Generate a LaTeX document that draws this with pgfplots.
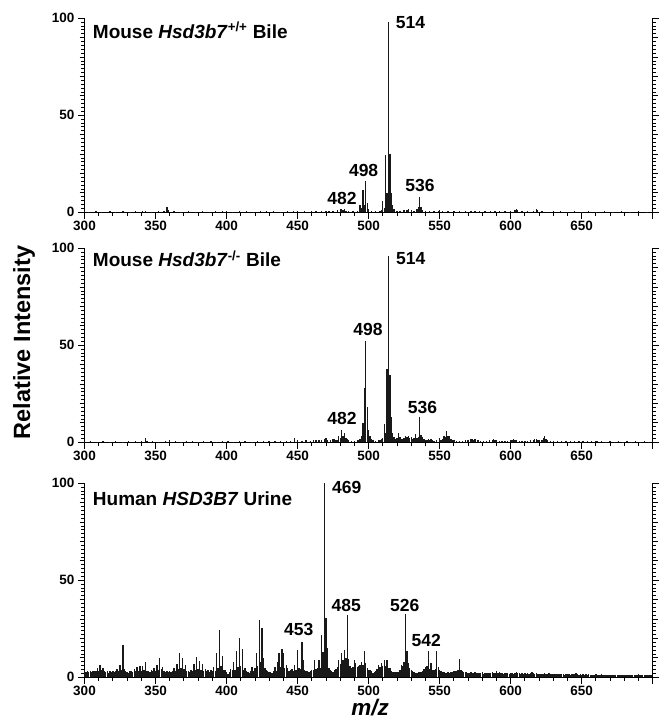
\documentclass[border=0pt]{standalone}
\usepackage{fontspec}
\setmainfont{Liberation Sans}
\usepackage{pgfplots}
\pgfplotsset{compat=1.18}

% one panel of the stacked spectra
\pgfplotsset{
  spec/.style={
    anchor=south west,
    scale only axis, width=568.2pt, height=194pt,
    xmin=300, xmax=700, ymin=0, ymax=100,
    axis x line*=bottom, axis y line*=box,
    xtick pos=bottom, ytick pos=both, yticklabel pos=left,
    tick align=outside,
    xtick={300,350,...,700},
    xticklabels={300,350,400,450,500,550,600,650,{}},
    minor x tick num=4,
    ytick={0,50,100}, minor y tick num=24,
    extra y ticks={10,20,30,40,60,70,80,90},
    extra y tick labels={},
    extra y tick style={major tick length=5pt},
    major tick length=6.5pt, minor tick length=3.5pt,
    tick style={black, line width=0.9pt},
    axis line style={black, line width=1.3pt},
    ticklabel style={font=\bfseries\fontsize{13.5}{14}\selectfont},
    xticklabel style={yshift=1pt},
    /pgf/number format/assume math mode=true,
    clip=false,
  },
  stick/.style={ycomb, black!90, line width=1.35pt, mark=none},
}
\tikzset{
  peak/.style={font=\bfseries\fontsize{17.5}{18}\selectfont, inner sep=0pt},
  ptitle/.style={font=\bfseries\fontsize{19}{20}\selectfont, inner sep=0pt, anchor=base west},
}

\begin{document}
\begin{tikzpicture}
\useasboundingbox (0,0) rectangle (660pt,719pt);

% ---- Mouse Hsd3b7 +/+ bile
\begin{axis}[spec, at={(84.5pt,506.7pt)}]
\addplot[stick] coordinates {
(300,0.5) (303,0.4) (308,0.5) (312,0.4) (318,0.5) (322,0.4) (327,0.5) (332,0.4)
(336,0.5) (341,0.8) (343,0.6) (347,0.4) (352,0.5) (356,0.8) (358,2.8) (359,1.0)
(363,0.5) (368,0.4) (373,0.6) (378,0.4) (383,0.5) (388,0.4) (392,0.6) (397,0.8)
(400,0.5) (404,0.4) (409,0.6) (414,0.5) (419,0.4) (424,0.5) (428,0.6) (433,0.5)
(438,0.4) (443,0.6) (447,0.8) (450,0.6) (455,0.5) (460,0.6) (463,0.5) (467,0.7)
(470,0.8) (472,0.6) (475,0.5) (478,1.0) (480,1.5) (481,1.8) (482,1.4) (483,1.5)
(484,0.8) (486,0.6) (489,0.5) (492,0.8) (494,3.8) (495,2.0) (496,11.5) (497,4.0)
(498,16) (499,5.0) (500,1.5) (502,0.6) (505,0.5) (508,0.8) (509,1.2) (510,6.0)
(511,2.0) (512,29.5) (513,10) (514,98) (515,30) (516,10) (517,4.0) (518,1.5)
(520,0.8) (522,0.6) (525,1.0) (527,1.2) (528,1.5) (530,1.3) (532,0.8) (534,1.5)
(535,2.5) (536,8.0) (537,2.5) (538,1.2) (540,0.8) (543,0.6) (546,0.7) (549,0.9)
(550,1.1) (552,0.7) (556,0.6) (560,0.5) (564,0.6) (568,0.5) (572,0.6) (575,0.9)
(578,0.5) (582,0.5) (586,0.6) (589,0.9) (592,0.6) (596,0.5) (600,0.8) (603,1.2)
(604,1.6) (605,1.0) (608,0.6) (612,0.5) (616,0.8) (618,1.5) (619,1.0) (622,0.5)
(626,0.4) (630,0.6) (635,0.5) (640,0.4) (645,0.5) (650,0.4) (655,0.5) (660,0.4)
(666,0.5) (672,0.4) (678,0.5) (684,0.4) (690,0.5) (696,0.4)
};
\node[ptitle] at (axis cs:305.8,89.7) {Mouse \textit{Hsd3b7}\textsuperscript{+/+} Bile};
\node[peak, anchor=base west] at (axis cs:519.1,94.8) {514};
\node[peak, anchor=base] at (axis cs:496.5,18.4) {498};
\node[peak, anchor=base] at (axis cs:481.3,3.8) {482};
\node[peak, anchor=base] at (axis cs:536.2,10.6) {536};
\end{axis}

% ---- Mouse Hsd3b7 -/- bile
\begin{axis}[spec, at={(84.5pt,276.7pt)}]
\addplot[stick] coordinates {
(300,0.4) (304,0.5) (309,0.4) (313,0.6) (318,0.4) (322,0.5) (327,0.4) (331,0.6)
(336,0.5) (340,0.7) (343,2.0) (344,0.8) (348,0.5) (352,0.4) (357,0.6) (360,1.2)
(364,0.5) (368,0.4) (372,0.6) (376,0.5) (380,0.4) (384,0.6) (389,0.5) (393,0.4)
(397,0.6) (401,0.5) (405,0.4) (409,0.6) (413,0.5) (418,0.4) (422,0.6) (426,0.5)
(430,0.7) (434,0.5) (438,0.6) (442,0.8) (445,0.9) (448,2.0) (450,1.0) (453,0.8)
(456,1.0) (459,0.9) (461,1.2) (463,1.0) (465,1.3) (467,1.2) (469,1.5) (470,2.2)
(471,1.4) (473,1.2) (475,1.5) (476,1.8) (477,1.4) (478,1.2) (479,3.0) (480,2.0)
(481,6.3) (482,3.3) (483,5.0) (484,2.0) (485,1.8) (486,1.0) (488,0.8) (490,0.9)
(492,1.2) (493,1.0) (494,1.5) (495,3.0) (496,9.8) (497,27.8) (498,52) (499,18)
(500,6.3) (501,3.0) (502,1.5) (503,1.0) (505,0.9) (507,1.2) (508,1.0) (509,1.5)
(510,2.0) (511,9.4) (512,5.0) (513,38) (514,96) (515,34.7) (516,13) (517,5.0)
(518,2.5) (519,1.5) (520,2.0) (521,4.6) (522,2.5) (523,1.5) (524,1.8) (525,2.2)
(526,3.0) (527,2.5) (528,3.0) (529,2.0) (530,2.5) (531,1.5) (532,2.0) (533,4.3)
(534,2.0) (535,2.5) (536,12.9) (537,3.8) (538,2.5) (539,1.5) (540,1.2) (541,1.0)
(542,1.5) (543,1.2) (544,1.5) (545,1.0) (546,0.8) (548,1.2) (550,2.0) (551,1.2)
(552,1.5) (553,3.0) (554,2.5) (555,5.8) (556,3.0) (557,3.0) (558,1.5) (559,1.2)
(560,1.0) (562,0.8) (564,0.7) (566,0.9) (568,1.0) (570,1.2) (572,1.5) (573,1.8)
(574,1.4) (575,1.5) (577,1.0) (579,0.8) (581,0.7) (583,0.8) (585,1.0) (587,1.2)
(588,1.5) (589,1.3) (590,1.0) (592,0.8) (594,0.7) (596,0.9) (598,0.8) (600,1.0)
(601,1.2) (602,1.5) (603,1.3) (604,1.0) (606,0.8) (608,0.7) (610,0.8) (612,0.9)
(614,1.0) (616,1.2) (617,1.5) (618,1.8) (619,1.3) (620,1.0) (622,1.2) (623,2.0)
(624,3.0) (625,1.5) (626,1.0) (628,0.8) (630,0.7) (633,0.6) (636,0.7) (639,0.5)
(642,0.6) (645,0.5) (648,0.6) (651,0.5) (654,0.6) (657,0.5) (660,0.7) (661,0.8)
(664,0.5) (667,0.4) (670,0.5) (673,0.4) (676,0.5) (679,0.4) (682,0.5) (685,0.4)
(688,0.5) (691,0.4) (694,0.5) (697,0.4)
};
\node[ptitle] at (axis cs:305.8,90.5) {Mouse \textit{Hsd3b7}\textsuperscript{-/-} Bile};
\node[peak, anchor=base west] at (axis cs:519.3,91.8) {514};
\node[peak, anchor=base] at (axis cs:499.5,54.8) {498};
\node[peak, anchor=base] at (axis cs:481.3,9.4) {482};
\node[peak, anchor=base] at (axis cs:538,14.9) {536};
\end{axis}

% ---- Human HSD3B7 urine
\begin{axis}[spec, at={(84.5pt,41.7pt)}]
\addplot[stick] coordinates {
(300,3.8) (301,2.5) (302,3.0) (303,2.6) (304,3.2) (305,2.8) (306,3.0) (307,3.4) (308,3.0) (309,4.6)
(310,3.5) (311,6.4) (312,4.0) (313,5.0) (314,3.4) (315,2.6) (316,3.0) (317,2.4) (318,3.0) (319,2.6)
(320,3.0) (321,2.5) (322,3.5) (323,4.5) (324,3.2) (325,6.4) (326,4.0) (327,16.7) (328,4.3) (329,3.0)
(330,2.6) (331,2.2) (332,3.0) (333,3.3) (334,2.6) (335,4.1) (336,3.0) (337,5.2) (338,3.5) (339,5.8)
(340,3.2) (341,6.0) (342,3.8) (343,7.7) (344,3.4) (345,3.0) (346,2.5) (347,3.8) (348,3.0) (349,4.6)
(350,3.2) (351,6.4) (352,4.0) (353,9.8) (354,4.5) (355,5.5) (356,3.0) (357,2.6) (358,3.3) (359,2.5)
(360,3.3) (361,2.8) (362,3.2) (363,4.6) (364,3.4) (365,6.9) (366,4.5) (367,12.4) (368,5.0) (369,9.8)
(370,4.2) (371,6.4) (372,3.0) (373,3.4) (374,2.8) (375,3.8) (376,3.2) (377,6.7) (378,4.0) (379,10.3)
(380,4.5) (381,8.6) (382,4.0) (383,6.7) (384,3.2) (385,4.1) (386,3.0) (387,3.8) (388,2.8) (389,3.8)
(390,3.2) (391,5.5) (392,3.5) (393,12.4) (394,5.0) (395,24.4) (396,6.0) (397,11.0) (398,4.0) (399,3.8)
(400,2.5) (401,1.5) (402,2.5) (403,4.1) (404,3.8) (405,8.0) (406,4.0) (407,13.6) (408,5.5) (409,20.0)
(410,6.0) (411,14.4) (412,4.0) (413,4.6) (414,3.0) (415,2.5) (416,2.4) (417,3.0) (418,5.2) (419,3.5)
(420,5.0) (421,12.7) (422,6.0) (423,29.5) (424,8.0) (425,25.3) (426,9.8) (427,5.0) (428,3.8) (429,3.0)
(430,2.6) (431,2.9) (432,2.4) (433,3.0) (434,5.5) (435,3.5) (436,8.0) (437,12.4) (438,5.5) (439,14.4)
(440,12.4) (441,5.0) (442,6.4) (443,4.6) (444,3.5) (445,3.6) (446,4.3) (447,3.5) (448,6.4) (449,4.0)
(450,14.0) (451,5.0) (452,4.5) (453,18.4) (454,8.9) (455,4.0) (456,3.4) (457,3.0) (458,2.6) (459,3.2)
(460,3.8) (461,4.0) (462,8.9) (463,4.5) (464,5.0) (465,8.9) (466,5.0) (467,21.8) (468,13.0) (469,100)
(470,30.4) (471,15.0) (472,5.0) (473,3.8) (474,3.0) (475,2.9) (476,3.6) (477,4.2) (478,5.5) (479,8.9)
(480,7.0) (481,12.4) (482,9.0) (483,14.0) (484,10.0) (485,32.0) (486,9.3) (487,6.0) (488,4.6) (489,5.5)
(490,8.9) (491,7.2) (492,5.5) (493,6.0) (494,6.5) (495,8.0) (496,6.4) (497,13.6) (498,7.2) (499,5.0)
(500,4.0) (501,3.8) (502,3.0) (503,2.0) (504,2.9) (505,3.0) (506,4.1) (507,6.4) (508,5.5) (509,7.2)
(510,6.0) (511,8.9) (512,6.0) (513,8.9) (514,5.0) (515,4.6) (516,3.5) (517,2.9) (518,2.6) (519,2.5)
(520,2.8) (521,2.9) (522,3.8) (523,6.4) (524,6.0) (525,8.0) (526,32.5) (527,13.6) (528,7.2) (529,5.0)
(530,3.8) (531,3.0) (532,2.5) (533,2.2) (534,2.0) (535,2.5) (536,2.8) (537,2.9) (538,3.5) (539,4.2)
(540,5.5) (541,6.0) (542,13.6) (543,4.5) (544,7.2) (545,4.0) (546,3.8) (547,4.5) (548,13.6) (549,5.5)
(550,4.0) (551,3.2) (552,2.9) (553,2.5) (554,2.4) (555,2.4) (556,2.6) (557,2.2) (558,2.9) (559,2.6)
(560,3.0) (561,3.4) (562,3.0) (563,4.0) (564,9.3) (565,3.8) (566,3.2) (567,2.9) (568,2.6) (569,2.9)
(570,2.4) (571,2.2) (572,2.5) (573,2.0) (574,2.3) (575,2.6) (576,2.1) (577,2.4) (578,2.0) (579,2.2)
(580,2.5) (581,1.9) (582,2.3) (583,2.1) (584,2.4) (585,2.0) (586,2.2) (587,2.6) (588,2.1) (589,2.3)
(590,3.0) (591,2.2) (592,2.5) (593,2.0) (594,2.2) (595,1.9) (596,2.3) (597,2.0) (598,2.2) (599,1.8)
(600,2.1) (601,2.4) (602,1.9) (603,2.2) (604,2.6) (605,2.0) (606,2.3) (607,1.9) (608,2.1) (609,1.8)
(610,2.2) (611,1.9) (612,2.0) (613,1.8) (614,2.2) (615,2.5) (616,2.0) (617,1.8) (618,2.1) (619,1.7)
(620,1.9) (621,1.6) (622,1.8) (623,1.7) (624,2.0) (625,1.6) (626,1.8) (627,2.4) (628,1.9) (629,1.6)
(630,1.8) (631,1.5) (632,1.7) (633,1.9) (634,1.6) (635,1.8) (636,1.5) (637,1.7) (638,1.4) (639,1.6)
(640,1.5) (641,1.7) (642,1.4) (643,1.6) (644,1.5) (645,1.8) (646,2.0) (647,1.6) (648,1.4) (649,1.5)
(650,1.3) (651,1.5) (652,1.4) (653,1.6) (654,1.3) (655,1.5) (656,1.4) (657,1.2) (658,1.4) (659,1.3)
(660,1.5) (661,1.2) (662,1.4) (663,1.3) (664,1.5) (665,1.2) (666,1.4) (667,1.3) (668,1.1) (669,1.3)
(670,1.2) (671,1.4) (672,1.2) (673,1.3) (674,1.1) (675,1.4) (676,1.2) (677,1.3) (678,1.1) (679,1.2)
(680,1.4) (681,1.2) (682,1.1) (683,1.3) (684,1.2) (685,1.4) (686,1.1) (687,1.2) (688,1.3) (689,1.1)
(690,1.6) (691,1.2) (692,1.1) (693,1.3) (694,1.2) (695,1.1) (696,1.3) (697,1.2) (698,1.1) (699,1.2)
};
\node[ptitle] at (axis cs:305.8,88.8) {Human \textit{HSD3B7} Urine};
\node[peak, anchor=base west] at (axis cs:474.2,94.5) {469};
\node[peak, anchor=base] at (axis cs:484.3,33.8) {485};
\node[peak, anchor=base] at (axis cs:450.8,21.8) {453};
\node[peak, anchor=base] at (axis cs:525.4,33.8) {526};
\node[peak, anchor=base] at (axis cs:540.6,15.8) {542};
\end{axis}

\node[rotate=90, font=\bfseries\fontsize{23.5}{24}\selectfont, inner sep=0pt] at (24pt,376.5pt) {Relative Intensity};
\node[anchor=base, font=\bfseries\itshape\fontsize{22.5}{23}\selectfont, inner sep=0pt] at (370pt,4pt) {m/z};
\end{tikzpicture}
\end{document}
